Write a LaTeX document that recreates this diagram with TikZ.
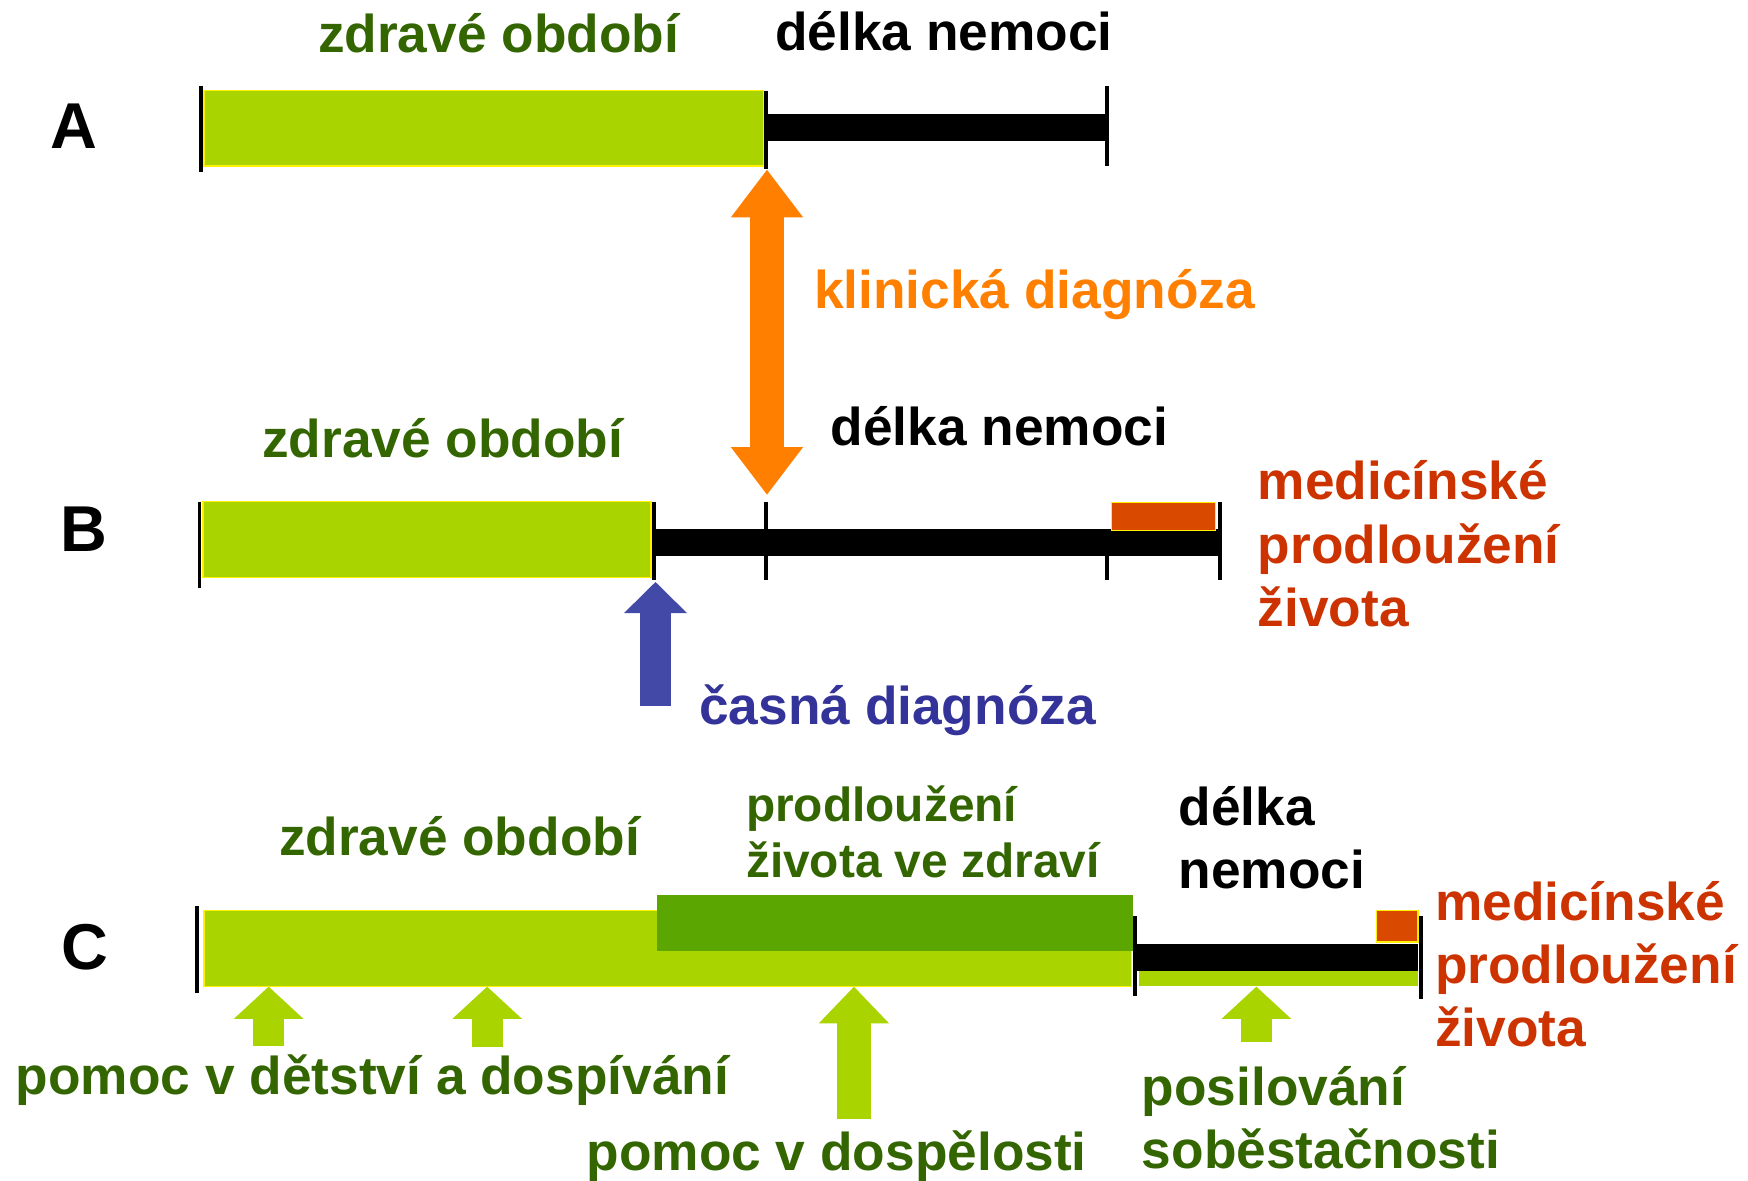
\documentclass[tikz,border=0pt]{standalone}
\usepackage{fontspec}
\setmainfont{Liberation Sans}
\usetikzlibrary{arrows.meta}
\definecolor{barlime}{HTML}{A9D400}
\definecolor{bardark}{HTML}{5BA600}
\definecolor{txtgreen}{HTML}{336600}
\definecolor{txtred}{HTML}{CC3300}
\definecolor{boxred}{HTML}{D94A00}
\definecolor{txtblue}{HTML}{333399}
\definecolor{arrblue}{HTML}{4249A6}
\definecolor{arrorange}{HTML}{FF7F00}

\begin{document}
\begin{tikzpicture}[x=0.01in,y=-0.01in,
  every node/.style={inner sep=0pt,anchor=base west,font=\bfseries\fontsize{34.5}{41}\selectfont},
  rowlabel/.style={anchor=base,font=\bfseries\fontsize{42}{50}\selectfont},
  tick/.style={line width=2.5pt},
  healthy/.style={fill=barlime,draw=yellow,line width=0.8pt},
  medbox/.style={fill=boxred,draw=yellow,line width=0.8pt},
  helparrow/.style={barlime,line width=20.2pt,-{Triangle[length=20.9pt,width=43.9pt]}},
]
\useasboundingbox (0,0) rectangle (1568,1059);

\node[rowlabel] (rowA) at (66,133) {A};
\node[rowlabel] (rowB) at (75,495) {B};
\node[rowlabel] (rowC) at (76,870) {C};

\path[healthy] (183,81) rectangle (685,149);
\fill (687,102) rectangle (993,126.5);
\draw[tick] (180,77) -- (180,154);
\draw[tick] (687,82) -- (687,152);
\draw[tick] (993,77) -- (993,149);
\node[txtgreen] (healthyA) at (285,47) {zdravé období};
\node (illA) at (695,45) {délka nemoci};

\path[healthy] (182,450) rectangle (584,518);
\fill (587,474.5) rectangle (1094,499);
\path[medbox] (997,451) rectangle (1090,476);
\draw[tick] (179,450) -- (179,527);
\draw[tick] (587,450) -- (587,520);
\draw[tick] (687,450) -- (687,520);
\draw[tick] (993,476) -- (993,520);
\draw[tick] (1094,450) -- (1094,520);
\node[txtgreen] (healthyB) at (235,410) {zdravé období};
\node (illB) at (745,400) {délka nemoci};
\node[txtred,align=left] (medB) at (1128,562) {medicínské\\prodloužení\\života};

\coordinate (clinTop) at (688,152);
\coordinate (clinBot) at (688,444);
\draw[arrorange,line width=21.6pt,{Triangle[length=31pt,width=44.6pt]}-{Triangle[length=31pt,width=44.6pt]}] (clinTop) -- (clinBot);
\node[arrorange] (clin) at (730,277) {klinická diagnóza};

\coordinate (earlyTip) at (588,522);
\coordinate (earlyEnd) at (588,633);
\draw[arrblue,line width=20.5pt,-{Triangle[length=20.2pt,width=39.6pt]}] (earlyEnd) -- (earlyTip);
\node[txtblue] (early) at (627,650) {časná diagnóza};

\path[healthy] (183,817) rectangle (1015,885);
\fill[bardark] (589,803) rectangle (1016,853);
\fill (1018,847) rectangle (1272,871);
\fill[barlime] (1022,871) rectangle (1272,884.5);
\path[medbox] (1235,817) rectangle (1272,845);
\draw[tick] (177,813) -- (177,891);
\draw[tick] (1018,822) -- (1018,893);
\draw[tick] (1275,822) -- (1275,896);
\node[txtgreen] (healthyC) at (250,767) {zdravé období};
\node[txtgreen,align=left,font=\bfseries\fontsize{31}{36}\selectfont] (extraC) at (669,787) {prodloužení\\života ve zdraví};
\node[align=left] (illC) at (1057,797) {délka\\nemoci};
\node[txtred,align=left] (medC) at (1287,939) {medicínské\\prodloužení\\života};

\coordinate (kidTipA) at (241,885);
\coordinate (kidEndA) at (241,938);
\coordinate (kidTipB) at (437,885);
\coordinate (kidEndB) at (437,939);
\coordinate (adultTip) at (766,885);
\coordinate (adultEnd) at (766,1004);
\coordinate (selfTip) at (1127,885);
\coordinate (selfEnd) at (1127,935);
\draw[helparrow] (kidEndA) -- (kidTipA);
\draw[helparrow] (kidEndB) -- (kidTipB);
\draw[helparrow,line width=21.6pt,-{Triangle[length=23.8pt,width=44pt]}] (adultEnd) -- (adultTip);
\draw[helparrow,line width=19.9pt] (selfEnd) -- (selfTip);
\node[txtgreen] (kids) at (14,982) {pomoc v dětství a dospívání};
\node[txtgreen] (adult) at (526,1050) {pomoc v dospělosti};
\node[txtgreen,align=left] (self) at (1024,1048) {posilování\\soběstačnosti};
\end{tikzpicture}
\end{document}
